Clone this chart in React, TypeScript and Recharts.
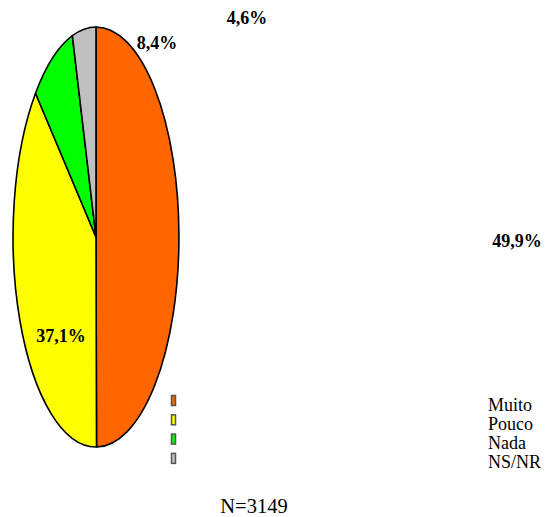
import React from 'react';
import { PieChart, Pie, Cell, Legend } from 'recharts';

const categories = ['Muito', 'Pouco', 'Nada', 'NS/NR'];
const shares = [49.9, 37.1, 8.4, 4.6];
const colors = ['#FF6600', '#FFFF00', '#00FF00', '#C0C0C0'];
const sampleSize = 3149;

const data = categories.map((name, i) => ({ name, value: shares[i] }));

const WIDTH = 545;
const HEIGHT = 517;
const CX = 96;
const CY = 237;
const RADIUS = 210;
// the pie is squashed horizontally into a tall ellipse
const X_SCALE = 0.395;
const FONT = 'Liberation Serif';

// where each percentage label sits, relative to the pie centre (text baseline)
const labelOffsets: Record<string, [number, number]> = {
  Muito: [421, 10],
  Pouco: [-35, 105],
  Nada: [61, -188],
  'NS/NR': [151, -213],
};

const RAD = Math.PI / 180;

const EllipseSector = (props: any) => {
  const { cx, cy, outerRadius, startAngle, endAngle, fill } = props;
  const rx = outerRadius * X_SCALE;
  const ry = outerRadius;
  const pt = (a: number) => [cx + rx * Math.cos(a * RAD), cy - ry * Math.sin(a * RAD)];
  const [x0, y0] = pt(startAngle);
  const [x1, y1] = pt(endAngle);
  const large = Math.abs(startAngle - endAngle) > 180 ? 1 : 0;
  const sweep = startAngle > endAngle ? 1 : 0;
  return (
    <path
      d={`M${cx},${cy} L${x0},${y0} A${rx},${ry} 0 ${large} ${sweep} ${x1},${y1} Z`}
      fill={fill}
      stroke="#000"
      strokeWidth={1.6}
      strokeLinejoin="round"
    />
  );
};

const renderLabel = (props: any) => {
  const { cx, cy, name, value } = props;
  const [dx, dy] = labelOffsets[name] ?? [0, 0];
  return (
    <text
      x={cx + dx}
      y={cy + dy}
      textAnchor="middle"
      fontFamily={FONT}
      fontSize={18}
      fontWeight="bold"
      fill="#000"
    >
      {value.toFixed(1).replace('.', ',')}%
    </text>
  );
};

const LegendBox = ({ payload }: any) => {
  // keep the legend in slice order
  const items = [...(payload ?? [])].sort(
    (a: any, b: any) => categories.indexOf(a.value) - categories.indexOf(b.value)
  );
  return (
    <svg width={WIDTH} height={HEIGHT} style={{ position: 'absolute', left: 0, top: 0, pointerEvents: 'none' }}>
      {items.map((entry: any, i: number) => (
        <g key={entry.value}>
          <rect x={171.5} y={395.5 + i * 19.3} width={4} height={10} fill={entry.color} stroke="#555" strokeWidth={1.5} />
          <text x={488} y={411 + i * 19} fontFamily={FONT} fontSize={18} fill="#000">
            {entry.value}
          </text>
        </g>
      ))}
    </svg>
  );
};

export default function App() {
  return (
    <div style={{ position: 'relative', width: WIDTH, height: HEIGHT, fontFamily: FONT }}>
      <style>{'body { margin: 0; }'}</style>
      <PieChart width={WIDTH} height={HEIGHT} margin={{ top: 0, right: 0, bottom: 0, left: 0 }}>
        <Pie
          data={data}
          dataKey="value"
          nameKey="name"
          cx={CX}
          cy={CY}
          outerRadius={RADIUS}
          startAngle={90}
          endAngle={-270}
          shape={EllipseSector}
          label={renderLabel}
          labelLine={false}
          isAnimationActive={false}
        >
          {data.map((d, i) => (
            <Cell key={d.name} fill={colors[i]} />
          ))}
        </Pie>
        <Legend content={LegendBox} wrapperStyle={{ position: 'absolute', left: 0, top: 0, width: WIDTH, height: HEIGHT }} />
      </PieChart>
      <svg width={WIDTH} height={HEIGHT} style={{ position: 'absolute', left: 0, top: 0, pointerEvents: 'none' }}>
        <text x={254} y={513} textAnchor="middle" fontFamily={FONT} fontSize={20.5} fill="#000">
          N={sampleSize}
        </text>
      </svg>
    </div>
  );
}
